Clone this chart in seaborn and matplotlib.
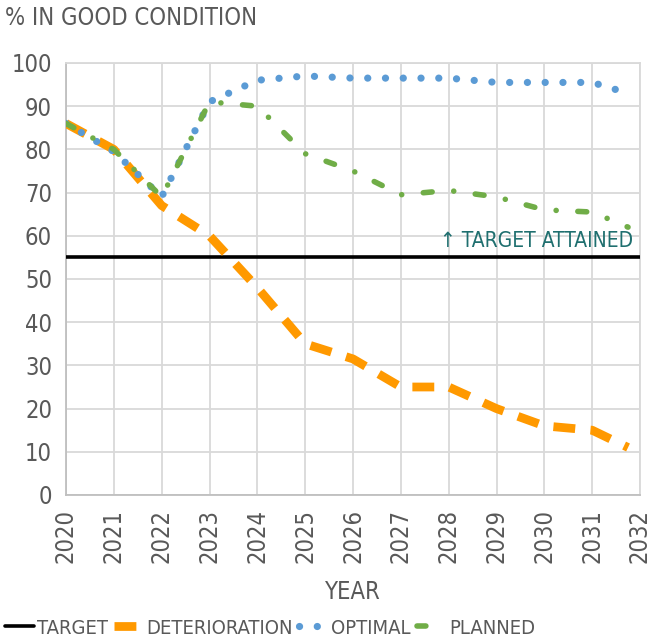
import pandas as pd
import matplotlib
matplotlib.use("Agg")
import matplotlib.pyplot as plt
import seaborn as sns

years = [2020, 2021, 2022, 2023, 2024, 2025, 2026, 2027, 2028, 2029, 2030, 2031, 2031.75]
deterioration = [86, 80, 67, 60, 48, 35, 31.5, 25, 25, 20, 16, 15, 11]
optimal = [86, 79.5, 69, 91, 96, 97, 96.5, 96.5, 96.5, 95.5, 95.5, 95.5, 93]
planned = [86, 80, 69, 91, 90, 79, 75, 69.5, 70.5, 69, 66, 65.5, 62]
target = 55
tick_years = list(range(2020, 2033))
y_ticks = list(range(0, 101, 10))

GREY = "#595959"
FS = 17


def main():
    sns.set_style("white")
    plt.rcParams["font.family"] = ["DejaVu Sans"]
    plt.rcParams["font.stretch"] = "condensed"
    plt.rcParams["font.size"] = FS

    df = pd.DataFrame({
        "year": years,
        "DETERIORATION": deterioration,
        "OPTIMAL": optimal,
        "PLANNED": planned,
    })

    fig = plt.figure(figsize=(6.52, 6.43), dpi=100)
    ax = fig.add_axes([66 / 652, 1 - 495 / 643, (640 - 66) / 652, (495 - 63) / 643])

    ax.axhline(target, color="black", lw=2.6, label="TARGET", zorder=3)

    sns.lineplot(data=df, x="year", y="DETERIORATION", ax=ax, color="#ff9900",
                 lw=6.3, linestyle=(0, (2.5, 1.75)), dash_capstyle="butt",
                 label="DETERIORATION", zorder=4)
    sns.lineplot(data=df, x="year", y="OPTIMAL", ax=ax, color="#5b9bd5",
                 lw=5.2, linestyle=(0, (0.01, 2.45)), dash_capstyle="round",
                 label="OPTIMAL", zorder=5)
    sns.lineplot(data=df, x="year", y="PLANNED", ax=ax, color="#70ad47",
                 lw=4.0, linestyle=(0, (1.6, 3.9, 0.01, 3.9)), dash_capstyle="round",
                 label="PLANNED", zorder=6)

    ax.set_xlim(2020, 2032)
    ax.set_ylim(0, 100)
    ax.set_xticks(tick_years)
    ax.set_xticklabels([str(y) for y in tick_years], rotation=90, color=GREY, fontsize=FS)
    ax.set_yticks(y_ticks)
    ax.set_yticklabels([str(v) for v in y_ticks], color=GREY, fontsize=FS)
    ax.tick_params(axis="x", length=0, pad=10)
    ax.tick_params(axis="y", length=0, pad=10)
    ax.grid(True, color="#d9d9d9", lw=1.3)
    for side in ["left", "bottom", "right", "top"]:
        ax.spines[side].set_color("#d9d9d9")
        ax.spines[side].set_linewidth(1.3)
    ax.spines["left"].set_color("#bfbfbf")
    ax.spines["bottom"].set_color("#bfbfbf")

    ax.set_xlabel("YEAR", color=GREY, fontsize=FS, labelpad=12)
    ax.set_ylabel("")

    ax.text(2031.85, 56.5, "\u2191 TARGET ATTAINED", color="#1f6f6f", fontsize=15,
            ha="right", va="bottom")

    fig.text(5 / 652, 1 - 18 / 643, "% IN GOOD CONDITION", color=GREY, fontsize=FS,
             ha="left", va="center")

    ax.legend(loc="center left", bbox_to_anchor=(5 / 652, 1 - 628 / 643),
              bbox_transform=fig.transFigure, ncol=4, frameon=False,
              handlelength=1.45, handletextpad=0.15, columnspacing=0.3, fontsize=14.5,
              labelcolor=GREY, borderaxespad=0, borderpad=0)

    fig.savefig("out.png", dpi=100)
    plt.close(fig)


if __name__ == "__main__":
    main()
